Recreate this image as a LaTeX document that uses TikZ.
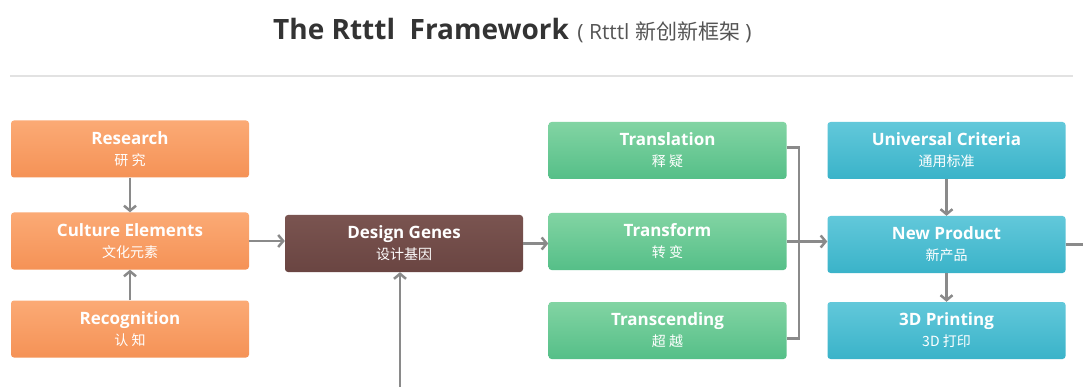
\documentclass[tikz,border=0pt]{standalone}
\usepackage{fontspec}
\setmainfont{Open Sans}
\newfontfamily\cjk{Noto Sans CJK SC}
\usetikzlibrary{arrows.meta}
\definecolor{txtdark}{HTML}{333333}
\definecolor{txtgray}{HTML}{555555}
\definecolor{rulegray}{HTML}{E2E2E2}
\definecolor{arrgray}{HTML}{8A8A8A}
\definecolor{orTop}{HTML}{FBAA75}
\definecolor{orBot}{HTML}{F59256}
\definecolor{brTop}{HTML}{7A5450}
\definecolor{brBot}{HTML}{6A4542}
\definecolor{grTop}{HTML}{82D4A3}
\definecolor{grBot}{HTML}{55BF88}
\definecolor{blTop}{HTML}{62C8DA}
\definecolor{blBot}{HTML}{3AB3C9}
\newcommand{\lbl}[2]{{\bfseries\fontsize{17}{20}\selectfont #1}\\{\cjk\fontsize{14}{16}\selectfont #2}}
\begin{document}
\begin{tikzpicture}[x=1pt,y=-1pt,
  box/.style={rounded corners=3pt, minimum width=238pt, minimum height=57pt, inner sep=0pt, text=white, align=center, font=\fontsize{14}{21}\selectfont},
  orbox/.style={box, top color=orTop, bottom color=orBot},
  brbox/.style={box, top color=brTop, bottom color=brBot},
  grbox/.style={box, top color=grTop, bottom color=grBot},
  blbox/.style={box, top color=blTop, bottom color=blBot},
  conn/.style={draw=arrgray, line width=2.5pt},
  arr/.style={conn, -{Straight Barb[length=5pt,width=12pt,line width=2.5pt]}}
]
\useasboundingbox[fill=white] (0,0) rectangle (1083,387);
\node[anchor=base west, inner sep=0pt, text=txtdark, font=\bfseries\fontsize{28}{34}\selectfont] (title) at (273,40) {The Rtttl\ \ Framework};
\node[anchor=base west, inner sep=0pt, text=txtgray, font=\fontsize{21}{24}\selectfont] (subtitle) at ([xshift=8pt]title.base east) {( Rtttl {\cjk 新创新框架} )};
\coordinate (ruleL) at (10,76);
\coordinate (ruleR) at (1073,76);
\draw[rulegray, line width=1.2pt] (ruleL) -- (ruleR);

\node[orbox] (research) at (130,149) {\lbl{Research}{研 究}};
\node[orbox] (culture) at (130,241) {\lbl{Culture Elements}{文化元素}};
\node[orbox] (recog) at (130,329) {\lbl{Recognition}{认 知}};
\node[brbox] (genes) at (404,243.5) {\lbl{Design Genes}{设计基因}};
\node[grbox] (transl) at (667.5,150.5) {\lbl{Translation}{释 疑}};
\node[grbox] (transf) at (667.5,241.5) {\lbl{Transform}{转 变}};
\node[grbox] (transc) at (667.5,330.5) {\lbl{Transcending}{超 越}};
\node[blbox] (univ) at (946.5,150.5) {\lbl{Universal Criteria}{通用标准}};
\node[blbox] (newp) at (946.5,244.5) {\lbl{New Product}{新产品}};
\node[blbox] (print) at (946.5,330.5) {\lbl{3D Printing}{3D 打印}};

\draw[arr] (research.south) -- (culture.north);
\draw[arr] (recog.north) -- (culture.south);
\draw[arr] (culture.east) -- (culture.east -| genes.west);
\coordinate (below) at (400,390);
\draw[arr] (below) -- (below |- genes.south);
\draw[arr] (genes.east) -- (genes.east -| transf.west);
\coordinate (brTopEnd) at ([yshift=3pt]transl.east);
\coordinate (brBotEnd) at ([yshift=-8pt]transc.east);
\coordinate (joint) at (799,0);
\draw[conn] (brTopEnd) -| (joint |- brBotEnd) -- (brBotEnd);
\draw[arr] (transf.east) -- (transf.east -| newp.west);
\draw[arr] (univ.south) -- (newp.north);
\draw[arr] (newp.south) -- (print.north);
\coordinate (outR) at (1086,0);
\draw[conn] (newp.east) -- (newp.east -| outR);
\end{tikzpicture}
\end{document}
